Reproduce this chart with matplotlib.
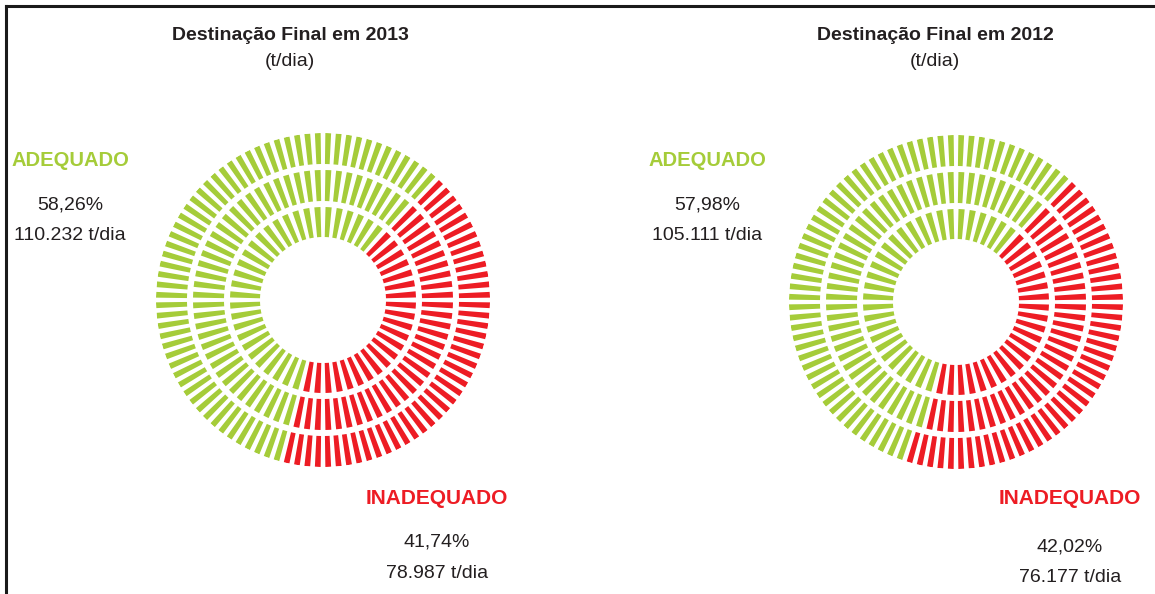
import numpy as np
import matplotlib
matplotlib.use("Agg")
import matplotlib.pyplot as plt
from matplotlib.lines import Line2D

# data
years = ["2013", "2012"]
pct_adequado = [58.26, 57.98]
pct_inadequado = [41.74, 42.02]
td_adequado = ["110.232", "105.111"]
td_inadequado = ["78.987", "76.177"]

GREEN, RED, DARK = "#a5cc39", "#ed1c24", "#231f20"
W, H = 1155, 594
plt.rcParams["font.family"] = ["Liberation Sans", "DejaVu Sans"]

fig = plt.figure(figsize=(W / 100, H / 100), dpi=100)
fig.patch.set_facecolor("white")


def fx(x):
    return x / W


def fy(y):
    return 1 - y / H


# rings: (inner radius, outer radius, number of ticks), in px
rings = [(63, 93, 52), (99, 130, 76), (136, 167, 100)]
R = 167
red_start = 45.0  # degrees clockwise from top


def donut(cx, cy, red_pct):
    ax = fig.add_axes([fx(cx - R), fy(cy + R), 2 * R / W, 2 * R / H], projection="polar")
    ax.set_theta_zero_location("N"); ax.set_theta_direction(-1)
    span = red_pct / 100 * 360
    for r0, r1, n in rings:
        th = (np.arange(n) + 0.5) * 360 / n
        cols = [RED if (t - red_start) % 360 < span else GREEN for t in th]
        ax.bar(np.radians(th), r1 - r0, bottom=r0, width=np.radians(360 / n) * 0.55,
               color=cols, linewidth=0)
    ax.set_ylim(0, R); ax.axis("off")
    return ax


centers = [(323, 300), (956, 302)]
title_x = [290, 935]
ade_x = [70, 707]
ina_x = [437, 1070]
for i, yr in enumerate(years):
    cx, cy = centers[i]
    donut(cx, cy, pct_inadequado[i])
    fig.text(fx(title_x[i]), fy(35), f"Destinação Final em {yr}", ha="center", va="center",
             fontsize=14, fontweight="bold", color=DARK)
    fig.text(fx(title_x[i]), fy(62), "(t/dia)", ha="center", va="center", fontsize=14, color=DARK)
    fig.text(fx(ade_x[i]), fy(161), "ADEQUADO", ha="center", va="center", fontsize=14.5,
             fontweight="bold", color=GREEN)
    fig.text(fx(ade_x[i]), fy(205), f"{pct_adequado[i]:.2f}%".replace(".", ","), ha="center",
             va="center", fontsize=14, color=DARK)
    fig.text(fx(ade_x[i]), fy(236), f"{td_adequado[i]} t/dia", ha="center", va="center",
             fontsize=14, color=DARK)
    fig.text(fx(ina_x[i]), fy(498), "INADEQUADO", ha="center", va="center", fontsize=15,
             fontweight="bold", color=RED)
    yoff = [0, 5][i]
    fig.text(fx(ina_x[i]), fy(542 + yoff), f"{pct_inadequado[i]:.2f}%".replace(".", ","),
             ha="center", va="center", fontsize=14, color=DARK)
    fig.text(fx(ina_x[i]), fy(573 + yoff), f"{td_inadequado[i]} t/dia", ha="center",
             va="center", fontsize=14, color=DARK)

# frame lines (top and left)
fig.add_artist(Line2D([fx(6), 1], [fy(5.5), fy(5.5)], color="#1a1a1a", lw=2.2))
fig.add_artist(Line2D([fx(6), fx(6)], [fy(5.5), 0], color="#1a1a1a", lw=2.2))

fig.savefig("out.png", dpi=100, facecolor="white")
